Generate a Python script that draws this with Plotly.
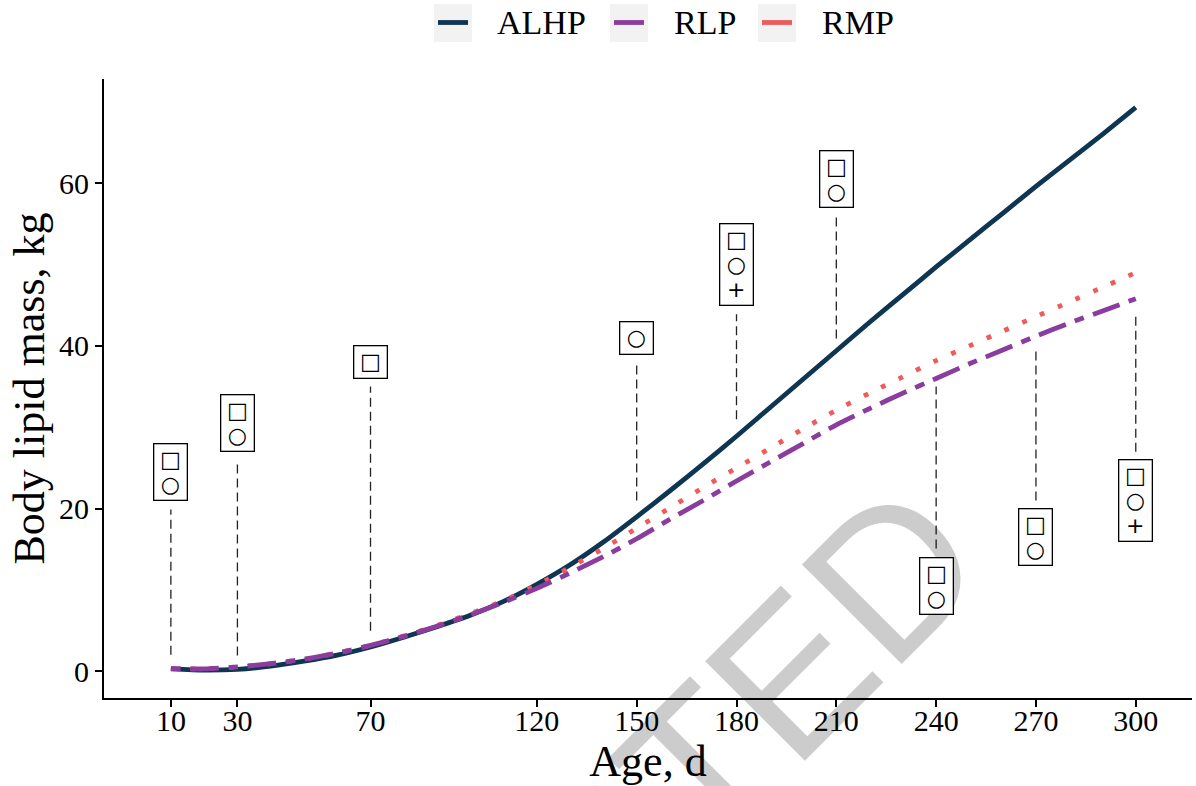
import plotly.graph_objects as go

# ---- data ----
age = [10, 20, 30, 40, 50, 60, 70, 80, 90, 100, 110, 120, 130, 140, 150,
       160, 170, 180, 190, 200, 210, 220, 230, 240, 250, 260, 270, 280, 290, 300]
alhp = [0.30, 0.15, 0.25, 0.65, 1.25, 2.0, 3.0, 4.2, 5.5, 6.9, 8.6, 10.7, 13.1, 15.9, 19.0,
        22.2, 25.5, 28.9, 32.4, 35.9, 39.4, 42.9, 46.3, 49.7, 53.0, 56.3, 59.6, 62.8, 66.0, 69.3]
rlp = [0.35, 0.3, 0.55, 0.95, 1.5, 2.25, 3.2, 4.3, 5.55, 6.95, 8.5, 10.2, 12.1, 14.1, 16.3,
       18.7, 21.0, 23.4, 25.7, 28.0, 30.3, 32.3, 34.2, 36.0, 37.8, 39.5, 41.2, 42.8, 44.3, 45.8]
rmp = [0.35, 0.3, 0.55, 0.95, 1.5, 2.25, 3.2, 4.35, 5.65, 7.1, 8.7, 10.6, 12.8, 15.1, 17.6,
       20.1, 22.6, 25.0, 27.4, 29.8, 32.1, 34.2, 36.2, 38.2, 40.0, 41.8, 43.6, 45.4, 47.2, 49.0]

series_names = ["ALHP", "RLP", "RMP"]
series_colors = ["#0e3551", "#8a3d9e", "#ef5b5b"]

label_x = [10, 30, 70, 150, 180, 210, 240, 270, 300]
label_y = [24.5, 30.5, 38.0, 41.0, 50.0, 60.5, 10.5, 16.5, 21.0]
label_symbols = [["□", "○"], ["□", "○"], ["□"], ["○"], ["□", "○", "+"],
                 ["□", "○"], ["□", "○"], ["□", "○"], ["□", "○", "+"]]
seg_low = [2.05, 1.95, 5.0, 21.0, 31.0, 40.9, 15.1, 21.0, 27.0]
seg_high = [19.9, 26.0, 35.0, 37.9, 43.9, 55.8, 35.0, 39.8, 44.0]

x_ticks = [10, 30, 70, 120, 150, 180, 210, 240, 270, 300]
y_ticks = [0, 20, 40, 60]

SERIF = "Liberation Serif, Times New Roman, serif"
W = 4.8

fig = go.Figure()

# connector segments
sx, sy = [], []
for x, lo, hi in zip(label_x, seg_low, seg_high):
    sx += [x, x, None]
    sy += [lo, hi, None]
fig.add_trace(go.Scatter(x=sx, y=sy, mode="lines", showlegend=False, hoverinfo="skip",
                         line=dict(color="#222222", width=1.3, dash="9px,5px")))

fig.add_trace(go.Scatter(x=age, y=alhp, mode="lines", name="ALHP", showlegend=False,
                         line=dict(color=series_colors[0], width=W, shape="spline",
                                   smoothing=0.6)))
fig.add_trace(go.Scatter(x=age, y=rmp, mode="lines", name="RMP", showlegend=False,
                         line=dict(color=series_colors[2], width=W, dash="4.8px,14.6px",
                                   shape="spline", smoothing=0.6)))
fig.add_trace(go.Scatter(x=age, y=rlp, mode="lines", name="RLP", showlegend=False,
                         line=dict(color=series_colors[1], width=W,
                                   dash="9.6px,9.6px,28.8px,9.6px",
                                   shape="spline", smoothing=0.6)))

annotations = []
# watermark (drawn first, beneath the labels)
annotations.append(dict(text="STED", x=(750 - 104) / 1088, y=(698 - 714) / 619,
                        xref="paper", yref="paper",
                        showarrow=False, textangle=-45, xanchor="center", yanchor="middle",
                        font=dict(family="Liberation Sans, Arial, sans-serif", size=205,
                                  color="rgba(0,0,0,0.2)")))

for x, y, syms in zip(label_x, label_y, label_symbols):
    txt = "<br>".join('<span style="font-size:22px;color:#000000">%s</span>' % s for s in syms)
    annotations.append(dict(x=x, y=y, xref="x", yref="y", text=txt,
                            showarrow=False, xanchor="center", yanchor="middle",
                            font=dict(family="DejaVu Sans", size=19, color="#000000"),
                            bgcolor="white", bordercolor="black", borderwidth=1.3,
                            borderpad=3, width=26))

# manual legend (pixel offsets from the plot area's top-left corner)
shapes = []
key_left = [330, 506, 654]
text_left = [391, 568, 716]
for kl, tl, name, col in zip(key_left, text_left, series_names, series_colors):
    shapes.append(dict(type="rect", xref="paper", yref="paper", xsizemode="pixel",
                       ysizemode="pixel", xanchor=0, yanchor=1, x0=kl, x1=kl + 38,
                       y0=37, y1=75, fillcolor="#f2f2f2", line=dict(width=0), layer="above"))
    shapes.append(dict(type="line", xref="paper", yref="paper", xsizemode="pixel",
                       ysizemode="pixel", xanchor=0, yanchor=1, x0=kl + 4, x1=kl + 34,
                       y0=56.5, y1=56.5, line=dict(color=col, width=W), layer="above"))
    annotations.append(dict(text=name, x=0, y=1, xref="paper", yref="paper",
                            xshift=tl, yshift=56.5, xanchor="left", yanchor="middle",
                            showarrow=False, font=dict(family=SERIF, size=34, color="black")))

fig.update_layout(
    width=1196, height=786,
    margin=dict(l=104, r=4, t=79, b=88),
    paper_bgcolor="white", plot_bgcolor="white",
    showlegend=False,
    annotations=annotations, shapes=shapes,
    font=dict(family=SERIF, color="black"),
    xaxis=dict(range=[-10.1, 316.9], tickmode="array", tickvals=x_ticks,
               ticktext=[str(t) for t in x_ticks], ticks="outside", ticklen=7,
               tickwidth=1.5, tickcolor="black", showline=True, linecolor="black",
               linewidth=2, showgrid=False, zeroline=False, automargin=False,
               ticklabelstandoff=-12,
               tickfont=dict(family=SERIF, size=30, color="black"),
               title=dict(text="Age, d", font=dict(family=SERIF, size=44, color="black"),
                          standoff=0)),
    yaxis=dict(range=[-3.27, 72.8], tickmode="array", tickvals=y_ticks,
               ticktext=[str(t) for t in y_ticks], ticks="outside", ticklen=7,
               tickwidth=1.5, tickcolor="black", showline=True, linecolor="black",
               linewidth=2, showgrid=False, zeroline=False, automargin=False,
               tickfont=dict(family=SERIF, size=30, color="black"),
               title=dict(text="Body lipid mass, kg",
                          font=dict(family=SERIF, size=44, color="black"), standoff=1)),
)

fig.write_html("out.html", config={"displayModeBar": False},
               post_script="document.body.style.margin='0';document.body.style.padding='0';")
